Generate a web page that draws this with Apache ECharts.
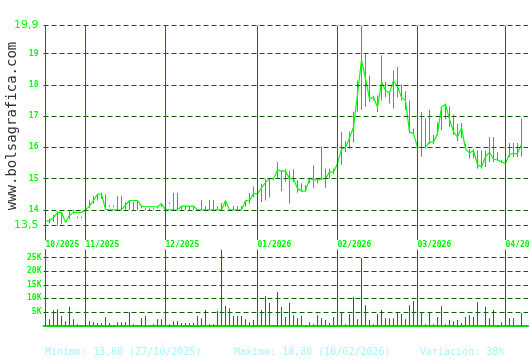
<!DOCTYPE html>
<html><head><meta charset="utf-8">
<script src="https://cdn.jsdelivr.net/npm/echarts@6/dist/echarts.min.js"></script>
<style>html,body{margin:0;padding:0;background:#fff}#c{width:530px;height:360px}</style>
</head><body><div id="c"></div>
<script>
// ---- data (daily sessions, index 0 = first session shown) ----
const closes = [
 13.65,13.65,13.75,13.92,13.92,13.60,13.82,13.92,13.92,13.92,
 14.0,14.12,14.3,14.5,14.5,14.02,14.0,14.0,14.0,14.0,
 14.15,14.3,14.3,14.3,14.12,14.1,14.1,14.1,14.1,14.2,
 14.0,14.0,14.0,14.0,14.12,14.12,14.12,14.12,14.0,14.0,
 14.0,14.0,14.0,14.0,14.0,14.29,14.0,14.0,14.0,14.0,
 14.29,14.31,14.52,14.52,14.7,14.88,15.0,15.0,15.27,15.24,
 15.24,15.0,15.0,14.68,14.6,14.6,15.0,14.97,14.95,15.0,
 15.0,15.21,15.21,15.48,15.95,16.0,16.3,16.65,17.7,18.8,
 18.2,17.55,17.6,17.29,18.09,17.82,17.75,18.14,17.95,17.6,
 17.5,16.49,16.44,16.01,16.0,16.01,16.17,16.17,16.44,17.29,
 17.38,16.9,16.5,16.33,16.63,15.95,15.82,15.9,15.45,15.37,
 15.7,15.85,15.62,15.6,15.53,15.5,15.78,15.8,15.8,16.1
];
const highs = [
 13.75,13.72,13.85,13.95,13.92,13.65,13.95,14.0,13.76,13.76,
 14.82,14.3,14.45,14.52,14.55,14.5,14.12,14.12,14.45,14.45,
 14.25,14.32,14.25,14.3,14.12,14.02,14.02,14.02,14.12,14.22,
 14.31,14.21,14.54,14.54,14.12,14.12,14.12,14.12,14.0,14.31,
 14.12,14.31,14.31,14.12,14.22,14.31,14.0,14.12,14.12,14.12,
 14.31,14.54,14.75,14.6,14.84,15.0,15.0,15.0,15.53,15.27,
 15.3,15.25,15.3,14.95,14.85,14.8,15.0,15.43,15.0,16.03,
 15.32,15.32,15.32,15.9,16.5,16.2,16.5,17.13,18.14,19.9,
 19.0,18.3,17.65,17.66,18.94,18.1,17.8,18.46,18.57,18.0,
 17.8,17.5,16.6,16.54,17.13,16.92,17.2,16.4,16.8,17.29,
 17.4,17.31,17.05,16.75,16.78,16.12,15.95,15.95,15.9,15.9,
 15.9,16.33,16.33,15.85,15.6,15.5,16.14,16.14,16.14,16.92
];
const lows = [
 13.55,13.58,13.62,13.5,13.55,13.58,13.7,13.88,13.74,13.74,
 14.0,14.05,14.2,14.3,14.35,14.0,14.1,14.1,14.0,14.0,
 14.0,14.0,14.0,14.0,14.05,14.0,14.0,14.0,14.05,14.1,
 14.0,14.19,14.0,14.0,14.0,14.0,14.0,14.0,14.0,14.0,
 14.0,14.0,14.0,14.0,14.0,14.1,14.0,14.0,14.0,14.0,
 14.1,14.2,14.4,14.3,14.25,14.3,14.4,14.95,15.0,14.6,
 14.9,14.2,14.9,14.55,14.6,14.6,14.85,14.71,14.85,14.95,
 14.71,15.0,15.15,15.48,15.45,15.85,15.95,16.15,17.15,17.2,
 17.3,17.45,17.5,17.13,17.5,17.6,17.4,17.24,17.6,17.5,
 17.2,16.45,16.4,15.7,15.7,15.96,16.1,16.1,16.4,16.55,
 16.9,16.65,16.4,16.2,16.3,15.95,15.65,15.65,15.32,15.32,
 15.37,15.53,15.53,15.6,15.5,15.5,15.69,15.69,15.69,15.7
];
const volumesK = [
 1.6,2.3,5.6,6.0,3.5,1.6,6.8,2.3,0.5,0.2,
 5.5,1.6,1.2,0.9,0.9,3.1,0.9,0.2,1.2,1.2,
 1.2,4.9,0.5,0.2,2.7,3.5,0.2,0.5,2.3,2.3,
 2.0,0.5,1.6,1.6,0.9,0.9,0.9,0.9,3.5,2.7,
 5.7,0.5,0.5,5.3,27.9,7.2,6.4,3.5,3.5,3.5,
 2.3,1.2,2.0,3.0,5.7,10.9,8.3,0.2,12.3,6.8,
 3.1,8.3,3.8,2.7,3.5,0.2,1.2,0.5,3.8,2.7,
 2.0,0.9,3.1,2.0,4.6,0.5,4.2,10.5,2.3,24.9,
 7.5,2.0,0.5,4.2,5.7,2.7,2.7,2.7,4.9,4.2,
 2.3,7.5,9.0,10.1,4.6,0.5,4.6,0.5,3.1,7.2,
 0.5,2.0,1.6,2.0,0.9,3.1,3.8,3.1,8.6,0.2,
 6.8,2.7,5.7,0.2,1.2,0.3,2.7,2.7,0.2,4.6
];
const monthIdx = [0,10,30,53,73,93,115];
const monthLabels = ['10/2025','11/2025','12/2025','01/2026','02/2026','03/2026','04/2026'];
const priceTicks = [13.5,14,15,16,17,18,19,19.9];
const priceTickLabels = ['13,5','14','15','16','17','18','19','19,9'];
const volTicks = [5,10,15,20,25];
const footerMin = 'Minimo: 13,60 (27/10/2025)';
const footerMax = 'Maximo: 18,80 (10/02/2026)';
const footerVar = 'Variación: 38%';
const watermark = 'www.bolsagrafica.com';

// ---- chart ----
const GREEN = '#00ff00', DGREEN = '#006400', MGREEN = '#008000';
const dash = {type:[5,3], color:DGREEN, width:1};
const chart = echarts.init(document.getElementById('c'), null, {renderer:'canvas'});
const xCommon = {type:'value', min:-0.5, max:120.625, splitLine:{show:false}, axisTick:{show:false}};
const monthMarks = {symbol:['none','none'], silent:true, label:{show:false},
  lineStyle:{type:'solid', color:MGREEN, width:1}, data: monthIdx.map(v=>({xAxis:v}))};
const labelMap = {};
priceTicks.forEach((t,k)=>labelMap[t]=priceTickLabels[k]);

chart.setOption({
  animation:false,
  backgroundColor:'#ffffff',
  grid:[
    {left:43.5, right:2, top:25.5, bottom:120, outerBoundsMode:'none', containLabel:false},
    {left:43.5, right:2, top:249.5, bottom:34.5, outerBoundsMode:'none', containLabel:false}
  ],
  xAxis:[
    Object.assign({}, xCommon, {gridIndex:0, axisLine:{show:false},
      axisLabel:{customValues:monthIdx, formatter:v=>monthLabels[monthIdx.indexOf(Math.round(v))]||'',
        align:'left', margin:1, color:'#00ee00', fontSize:8, fontWeight:'bold', fontFamily:'DejaVu Sans Mono'}}),
    Object.assign({}, xCommon, {gridIndex:1, axisLine:{show:true, onZero:false, lineStyle:{color:'#00dd00', width:2}},
      axisLabel:{show:false}})
  ],
  yAxis:[
    {type:'value', gridIndex:0, min:13.036, max:19.9, splitLine:{show:false}, axisTick:{show:false},
     axisLine:{show:true, lineStyle:{color:'#00dd00', width:1}},
     axisLabel:{customValues:priceTicks, margin:5, color:GREEN, fontFamily:'DejaVu Sans Mono', fontWeight:'bold', fontSize:8,
       formatter:v=>{const s=labelMap[Math.round(v*10)/10]||''; return (s.indexOf(',')>=0)?'{big|'+s+'}':s;},
       rich:{big:{fontSize:11, fontWeight:'normal', fontFamily:'DejaVu Sans', color:GREEN}}}},
    {type:'value', gridIndex:1, min:0, max:28, splitLine:{show:false}, axisTick:{show:false},
     axisLine:{show:true, lineStyle:{color:'#00dd00', width:1}},
     axisLabel:{customValues:volTicks, margin:2, color:GREEN, fontFamily:'DejaVu Sans Mono', fontWeight:'bold', fontSize:8,
       formatter:v=>v+'K'}}
  ],
  series:[
    {type:'line', xAxisIndex:0, yAxisIndex:0, data:[], silent:true, z:1,
     markLine:{symbol:['none','none'], silent:true, label:{show:false}, lineStyle:dash,
       data: priceTicks.map(v=>({yAxis:v}))}},
    {type:'line', xAxisIndex:0, yAxisIndex:0, data:[], silent:true, z:2, markLine:monthMarks},
    {type:'custom', xAxisIndex:0, yAxisIndex:0, z:3, silent:true,
     data: closes.map((c,i)=>[i, lows[i], highs[i]]),
     encode:{x:0, y:[1,2]},
     renderItem:(params, api)=>{
       const i = api.value(0), lo = api.value(1), hi = api.value(2);
       if (hi === lo) return null;
       const a = api.coord([i, lo]), b = api.coord([i, hi]);
       const x = Math.round(a[0]-0.5)+0.5;
       let y1 = a[1], y2 = b[1];
       if (Math.abs(y1-y2) < 1.5) { y2 = y1 - 1.5; }
       return {type:'line', shape:{x1:x, y1:y1, x2:x, y2:y2}, style:{stroke:'#17a9b6', lineWidth:1}};
     }},
    {type:'line', xAxisIndex:0, yAxisIndex:0, z:4, silent:true, symbol:'none',
     data: closes.map((c,i)=>[i,c]), lineStyle:{color:GREEN, width:1.2}},
    {type:'line', xAxisIndex:1, yAxisIndex:1, data:[], silent:true, z:1,
     markLine:{symbol:['none','none'], silent:true, label:{show:false}, lineStyle:dash,
       data: volTicks.map(v=>({yAxis:v}))}},
    {type:'line', xAxisIndex:1, yAxisIndex:1, data:[], silent:true, z:2, markLine:monthMarks},
    {type:'custom', xAxisIndex:1, yAxisIndex:1, z:3, silent:true,
     data: volumesK.map((v,i)=>[i,v]), encode:{x:0, y:1},
     renderItem:(params, api)=>{
       const top = api.coord([api.value(0), api.value(1)]);
       const base = api.coord([api.value(0), 0]);
       const x = Math.round(top[0]-0.5);
       return {type:'rect', shape:{x:x, y:top[1], width:1, height:base[1]-top[1]},
         style:{fill:'#ff0000'}};
     }}
  ],
  graphic:[
    {type:'text', x:12, y:126, rotation:Math.PI/2, silent:true,
     style:{text:watermark, fill:'#333333', font:'14px "DejaVu Sans Mono"', align:'center', verticalAlign:'middle'}},
    {type:'text', left:45, top:347, silent:true, style:{text:footerMin, fill:'#a6f2ff', font:'10px "DejaVu Sans Mono"'}},
    {type:'text', left:234, top:347, silent:true, style:{text:footerMax, fill:'#a6f2ff', font:'10px "DejaVu Sans Mono"'}},
    {type:'text', left:420, top:347, silent:true, style:{text:footerVar, fill:'#a6f2ff', font:'10px "DejaVu Sans Mono"'}}
  ]
});
</script></body></html>
